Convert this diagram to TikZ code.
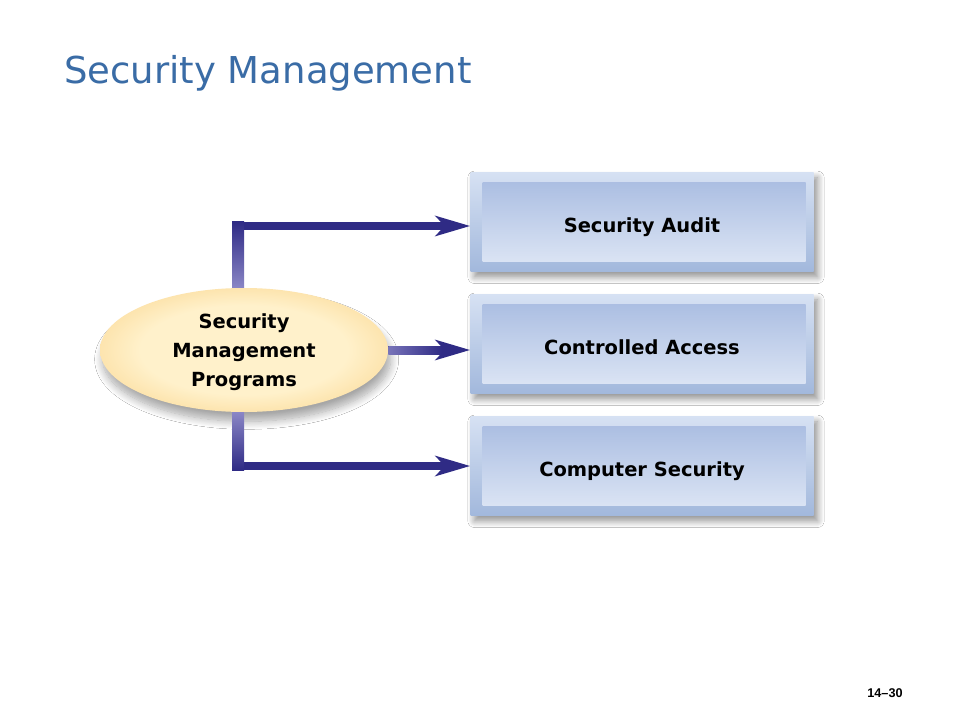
\documentclass[tikz,border=0pt]{standalone}
\usepackage{fontspec}
\setmainfont{DejaVu Sans}
\newfontfamily\pagefont{Liberation Sans}
\usetikzlibrary{arrows.meta,shadows.blur,shapes.geometric,positioning}

\definecolor{titleblue}{HTML}{3A6CA6}
\definecolor{linkdark}{HTML}{2F2B85}
\definecolor{linklight}{HTML}{8A86C6}
\definecolor{frametop}{HTML}{D6E1F3}
\definecolor{framebot}{HTML}{A2B8DC}
\definecolor{facetop}{HTML}{A6BAE0}
\definecolor{facebot}{HTML}{E0E8F6}
\definecolor{progin}{HTML}{FFF1CB}
\definecolor{progmid}{HTML}{FAD48A}
\definecolor{progrim}{HTML}{F6C365}
\definecolor{progedge}{HTML}{F3BE5E}

\pgfdeclareradialshading{progshade}{\pgfpoint{0bp}{0bp}}{%
  color(0bp)=(progin); color(18bp)=(progin); color(34bp)=(progmid);
  color(36bp)=(progrim); color(46bp)=(progrim); color(50bp)=(progedge)}

\tikzset{
  itembox/.style={rectangle, minimum width=257.25pt, minimum height=74.25pt,
    inner sep=0pt, top color=frametop, bottom color=framebot,
    blur shadow={shadow xshift=3pt, shadow yshift=-4pt, shadow blur radius=5pt,
      shadow blur steps=12, shadow opacity=45},
    font=\fontsize{14.6}{17}\selectfont\bfseries, text height=15.4pt, text depth=0.3pt,
    path picture={\shade[top color=facetop, bottom color=facebot]
      ([xshift=9pt,yshift=-7.5pt]path picture bounding box.north west) rectangle
      ([xshift=-6pt,yshift=7.5pt]path picture bounding box.south east);}},
  progbox/.style={ellipse, minimum width=216pt, minimum height=93pt, inner sep=0pt,
    shading=progshade, align=center, text depth=0pt,
    blur shadow={shadow xshift=2pt, shadow yshift=-7pt, shadow blur radius=6pt,
      shadow blur steps=12, shadow opacity=35},
    font=\fontsize{14.6}{21.75}\selectfont\bfseries},
  link/.style={line width=6pt, draw=linkdark,
    -{Stealth[length=26pt, width=15pt, inset=7pt]}},
}

\begin{document}
\begin{tikzpicture}[x=0.75pt, y=-0.75pt]
    % Page area
    \useasboundingbox[fill=white] (0,0) rectangle (960,720);

    % Title
    \node[anchor=base west, inner sep=0pt, text=titleblue,
          font=\fontsize{27.75}{33}\selectfont] (title) at (64,84) {Security Management};

    % Boxes on the right
    \node[itembox] (audit) at (642,222) {Security Audit};
    \node[itembox] (access) at (642,344) {Controlled Access};
    \node[itembox] (compsec) at (642,466) {Computer Security};

    % Ellipse on the left
    \node[progbox] (prog) at (244,350) {Security\\Management\\Programs};

    % Connectors
    \draw[link] ([xshift=-4.5pt]prog.north) |- ([yshift=-3pt]audit.west);
    \draw[link] (prog.east) -- (prog.east -| access.west);
    \draw[link] ([xshift=-4.5pt]prog.south) |- (compsec.west);

    % Lighter parts near the ellipse
    \shade[bottom color=linklight, top color=linkdark]
        ([xshift=-9pt]prog.north) rectangle ([yshift=0pt]prog.north |- audit.west);
    \shade[top color=linklight, bottom color=linkdark]
        ([xshift=-9pt]prog.south) rectangle ([yshift=-3pt]prog.south |- compsec.west);
    \shade[left color=linklight!80!linkdark, right color=linkdark]
        ([yshift=3pt]prog.east) rectangle ([xshift=40pt,yshift=-3pt]prog.east);

    % Page number
    \node[font=\pagefont\bfseries\fontsize{9.5}{11}\selectfont] (pageno) at (885,693) {14–30};
\end{tikzpicture}
\end{document}
